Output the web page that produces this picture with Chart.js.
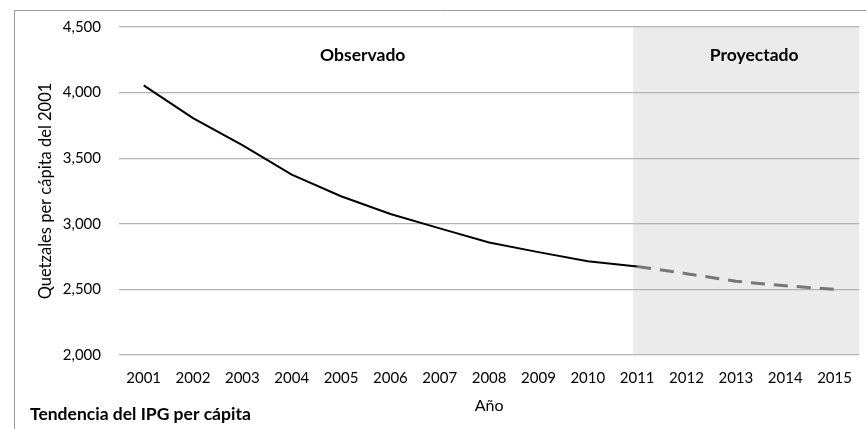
<!DOCTYPE html>
<html>
<head>
<meta charset="utf-8">
<script src="https://cdn.jsdelivr.net/npm/chart.js@4.4.1/dist/chart.umd.min.js"></script>
<style>
  html, body { margin: 0; padding: 0; background: #ffffff; }
  #wrap { width: 866px; height: 429px; position: relative; }
</style>
</head>
<body>
<div id="wrap"><canvas id="grafico"></canvas></div>
<script>
const anos = ['2001', '2002', '2003', '2004', '2005', '2006', '2007', '2008',
    '2009', '2010', '2011', '2012', '2013', '2014', '2015'];

// valores observados (2001-2011) y proyectados (2011-2015)
const observado = [4055, 3805, 3600, 3375, 3210, 3075, 2965, 2858, 2784, 2715, 2675,
    null, null, null, null];
const proyectado = [null, null, null, null, null, null, null, null, null, null, 2675,
    2620, 2562, 2528, 2500];

const inicioProyeccion = '2011';
const fuente = 'Lato, Calibri, "Open Sans", sans-serif';

Chart.defaults.font.family = fuente;
Chart.defaults.color = '#000000';

// fondo gris de la parte proyectada, marco y textos
const decoracion = {
    id: 'decoracion',
    beforeDraw(chart) {
        const ctx = chart.ctx;
        const area = chart.chartArea;
        const x = chart.scales.x;
        const inicio = x.getPixelForValue(anos.indexOf(inicioProyeccion)) - 4;

        ctx.save();
        ctx.fillStyle = '#ebebeb';
        ctx.fillRect(inicio, area.top, area.right - inicio, area.bottom - area.top);

        ctx.strokeStyle = '#9a9a9a';
        ctx.lineWidth = 1;
        ctx.beginPath();
        ctx.moveTo(14.5, chart.height);
        ctx.lineTo(14.5, 10.5);
        ctx.lineTo(chart.width, 10.5);
        ctx.stroke();
        ctx.restore();
    },
    afterDraw(chart) {
        const ctx = chart.ctx;
        const area = chart.chartArea;
        const x = chart.scales.x;
        const inicio = x.getPixelForValue(anos.indexOf(inicioProyeccion)) - 4;

        ctx.save();
        ctx.fillStyle = '#000000';
        ctx.font = 'bold 17.5px ' + fuente;
        ctx.textAlign = 'center';
        ctx.textBaseline = 'middle';
        ctx.fillText('Observado', x.getPixelForValue(4.5) - 3, area.top + 28);
        ctx.fillText('Proyectado', (inicio + area.right) / 2 + 8, area.top + 28);

        ctx.textAlign = 'left';
        ctx.fillText('Tendencia del IPG per cápita', 30, 414);
        ctx.restore();
    }
};

const config = {
    type: 'line',
    data: {
        labels: anos,
        datasets: [{
            label: 'Observado',
            data: observado,
            borderColor: '#000000',
            borderWidth: 2,
            pointRadius: 0,
            tension: 0,
            spanGaps: false
        },
        {
            label: 'Proyectado',
            data: proyectado,
            borderColor: '#767676',
            borderWidth: 3,
            borderDash: [14, 9],
            pointRadius: 0,
            tension: 0,
            spanGaps: false
        }]
    },
    options: {
        responsive: false,
        animation: false,
        layout: {
            padding: { left: 31, top: 27, right: 2, bottom: 0 }
        },
        plugins: {
            legend: { display: false },
            tooltip: { enabled: false }
        },
        scales: {
            x: {
                offset: true,
                grid: { display: false, drawTicks: false },
                border: { display: false },
                ticks: {
                    font: { size: 15 },
                    padding: 14,
                    maxRotation: 0
                },
                title: {
                    display: true,
                    text: 'Año',
                    font: { size: 16 },
                    padding: { top: 0, bottom: 14 }
                },
                afterFit(scale) { scale.height = 74; }
            },
            y: {
                min: 2000,
                max: 4500,
                grid: {
                    color: '#b4b4b4',
                    lineWidth: 1.3,
                    drawTicks: false
                },
                border: { display: false },
                ticks: {
                    stepSize: 500,
                    font: { size: 15 },
                    padding: 18,
                    callback: (v) => v.toLocaleString('en-US')
                },
                title: {
                    display: true,
                    text: 'Quetzales per cápita del 2001',
                    font: { size: 16.5 },
                    padding: { top: 5, bottom: 4 }
                },
                afterFit(scale) { scale.width = 88; }
            }
        }
    },
    plugins: [decoracion]
};

const canvas = document.getElementById('grafico');
canvas.width = 866;
canvas.height = 429;

let grafico = new Chart(canvas, config);
</script>
</body>
</html>
